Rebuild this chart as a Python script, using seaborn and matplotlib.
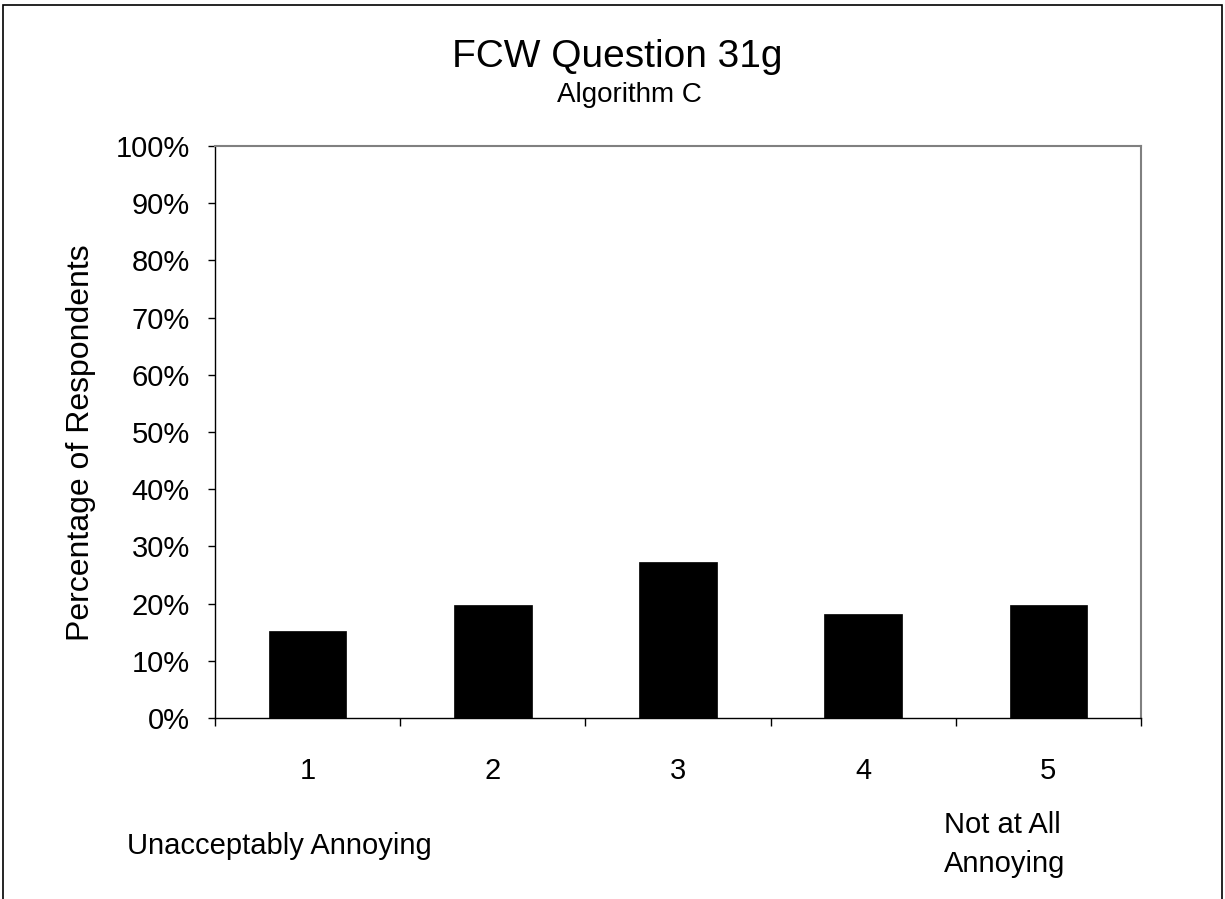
import matplotlib
matplotlib.use("Agg")
import matplotlib.pyplot as plt
import seaborn as sns
import pandas as pd
from matplotlib.patches import Rectangle

categories = ["1", "2", "3", "4", "5"]
values = [15.2, 19.7, 27.3, 18.2, 19.7]
yticks = list(range(0, 101, 10))
ytick_labels = [f"{v}%" for v in yticks]
title = "FCW Question 31g"
subtitle = "Algorithm C"
ylabel = "Percentage of Respondents"
left_note = "Unacceptably Annoying"
right_note_lines = ["Not at All", "Annoying"]

sns.set_theme(style="white")
plt.rcParams["font.family"] = ["Liberation Sans", "DejaVu Sans"]
plt.rcParams["text.color"] = "black"

W, H = 1225, 899
fig = plt.figure(figsize=(W / 100, H / 100), dpi=100)
fig.patch.set_facecolor("white")

ax = fig.add_axes([215 / W, 1 - 718 / H, (1141 - 215) / W, (718 - 146) / H])
df = pd.DataFrame({"rating": categories, "pct": values})
sns.barplot(data=df, x="rating", y="pct", color="black", saturation=1,
            width=0.42, ax=ax, edgecolor="black", linewidth=0.5)

ax.set_xlim(-0.5, len(categories) - 0.5)
ax.set_ylim(0, 100)
ax.set_yticks(yticks)
ax.set_yticklabels(ytick_labels)
ax.set_xticks(range(len(categories)))
ax.set_xticklabels(categories)
ax.set_xticks([i - 0.5 for i in range(len(categories) + 1)], minor=True)
ax.set_xlabel("")
ax.set_ylabel("")

ax.tick_params(axis="x", which="major", length=0, pad=28, labelsize=21, colors="black")
ax.tick_params(axis="x", which="minor", length=6, width=1, color="black", direction="out", bottom=True)
ax.tick_params(axis="y", which="major", length=5, width=1, color="black", direction="out",
               pad=13, labelsize=21, left=True, labelcolor="black")

for s in ["left", "bottom"]:
    ax.spines[s].set_color("black")
    ax.spines[s].set_linewidth(1.0)
for s in ["top", "right"]:
    ax.spines[s].set_color("#808080")
    ax.spines[s].set_linewidth(1.5)

fig.text(617 / W, 1 - 67 / H, title, ha="center", va="baseline", fontsize=28, color="black")
fig.text(629 / W, 1 - 102 / H, subtitle, ha="center", va="baseline", fontsize=20, color="black")
fig.text(81 / W, 1 - 443 / H, ylabel, ha="center", va="center", rotation=90, fontsize=23, color="black")
fig.text(279 / W, 1 - 854 / H, left_note, ha="center", va="baseline", fontsize=21, color="black")
for line, base in zip(right_note_lines, [833, 872]):
    fig.text(944 / W, 1 - base / H, line, ha="left", va="baseline", fontsize=21, color="black")

# figure border
fig.patches.append(Rectangle((3 / W, -0.05), (1222 - 3) / W, 1 - 5 / H + 0.05,
                             transform=fig.transFigure, fill=False,
                             edgecolor="black", linewidth=1.2))

fig.savefig("out.png", dpi=100, facecolor="white")
